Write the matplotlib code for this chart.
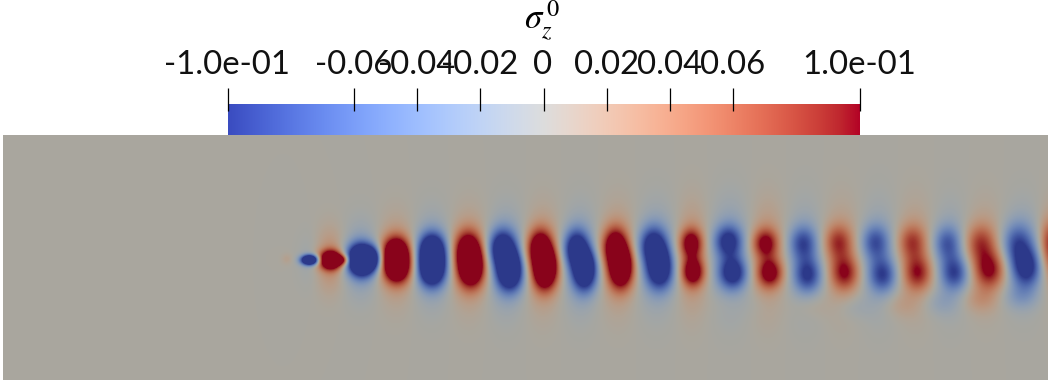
import numpy as np
import matplotlib
matplotlib.use('Agg')
import matplotlib.pyplot as plt
from matplotlib.colors import ListedColormap

# ==== scalar bar ====
tick_values = [-0.1, -0.06, -0.04, -0.02, 0.0, 0.02, 0.04, 0.06, 0.1]
tick_labels = ['-1.0e-01', '-0.06', '-0.04', '-0.02', '0', '0.02', '0.04', '0.06', '1.0e-01']
bar_title = r'$\sigma_z^{\,0}$'

# ==== lobes of the field (left to right, alternating sign) ====
# every lobe is an upper and a lower core, in image pixels
lobe_xu = [287, 310, 331, 361, 396, 432, 468, 502, 540, 576, 615, 653, 691, 728, 765, 803, 838, 875, 912, 947, 980, 1017, 1050]
lobe_xl = [287, 310, 331, 362, 397, 432, 471, 510, 545, 585, 621, 660, 693, 733, 770, 808, 845, 883, 918, 955, 990, 1027, 1052]
lobe_yu = [259, 260, 258, 255, 252, 250, 249, 248, 248, 248, 246, 245, 243, 241, 243, 243, 242, 242, 242, 243, 243, 243, 240]
lobe_yl = [259, 260, 262, 265, 268, 270, 271, 274, 273, 274, 272, 272, 272, 273, 273, 275, 273, 275, 273, 273, 270, 268, 262]
lobe_au = [.006, -.11, .10, -.12, .14, -.14, .12, -.12, .13, -.11, .12, -.10, .10, -.085, .085, -.07, .065, -.065, .06, -.06, .06, -.06, .05]
lobe_al = [.006, -.11, .10, -.12, .14, -.14, .12, -.12, .13, -.11, .12, -.10, .11, -.095, .095, -.08, .08, -.075, .075, -.075, .085, -.09, .03]
lobe_sx = [4, 6, 8, 10, 10, 10, 10, 10, 9, 9, 9, 10, 8, 10, 9, 10, 10, 10, 10, 10, 11, 11, 7]
lobe_sy = [4, 3.5, 6, 9, 11, 12, 13, 13, 13, 13, 13, 13, 10, 11, 10, 12, 12, 12, 12, 12, 13, 14, 14]
halo_amp = [0, .012, .04, .04, .04, .04, .04, .04, .04, .04, .04, .04, .04, .04, .04, .03, .03, .03, .03, .03, .03, .035, .035]

# mid core that bends the tall lobes into crescents (position, strength)
bend_x = [472, 511, 548, 586, 623, 661]
bend_y = [262, 263, 262, 262, 260, 259]
bend_a = [.05, -.05, .05, -.05, .05, -.04]

# nose of the first lobes, which are not symmetric
nose_x = [342, 374]
nose_y = [260, 258]
nose_sx = [5, 6]
nose_sy = [3.5, 8]
nose_a = [.09, -.08]

# faint secondary lobes under the main row
faint_x = [727, 760, 810, 853, 900, 940, 980, 1020]
faint_y = [303, 303, 306, 307, 305, 303, 300, 297]
faint_a = [.006, -.006, .012, -.012, .014, -.016, .02, -.022]

# ==== field ====
xx, yy = np.meshgrid(np.arange(3, 1048) + 0.5, np.arange(135, 380) + 0.5)
field = np.zeros_like(xx)


def blob(x0, y0, sx, sy, amp):
    return amp * np.exp(-((xx - x0) / sx) ** 2 / 2 - ((yy - y0) / sy) ** 2 / 2)


for i in range(len(lobe_xu)):
    field += blob(lobe_xu[i], lobe_yu[i], lobe_sx[i], lobe_sy[i], lobe_au[i])
    field += blob(lobe_xl[i], lobe_yl[i], lobe_sx[i], lobe_sy[i], lobe_al[i])
    sign = np.sign(lobe_au[i])
    xm = (lobe_xu[i] + lobe_xl[i]) / 2
    ym = (lobe_yu[i] + lobe_yl[i]) / 2
    hh = (lobe_yl[i] - lobe_yu[i]) / 2 + 19
    field += blob(xm, ym, lobe_sx[i] * 1.4, hh, sign * halo_amp[i])
for i in range(len(bend_x)):
    field += blob(bend_x[i], bend_y[i], 7, 10, bend_a[i])
for i in range(len(nose_x)):
    field += blob(nose_x[i], nose_y[i], nose_sx[i], nose_sy[i], nose_a[i])
for i in range(len(faint_x)):
    field += blob(faint_x[i], faint_y[i], 13, 9, faint_a[i])

# surface colours are the colour map dimmed by the scene lighting
base = plt.get_cmap('coolwarm')(np.linspace(0, 1, 256))[:, :3]
lit = ListedColormap(base * np.array([0.765, 0.757, 0.72]))

# ==== plot ====
fig = plt.figure(figsize=(10.56, 3.84), dpi=100)
ax = fig.add_axes([0, 0, 1, 1])
ax.axis('off')

ax.imshow(field, cmap=lit, vmin=-0.1, vmax=0.1, extent=(3, 1048, 380, 135),
          interpolation='bilinear', aspect='auto', zorder=1)

# scalar bar sits on a pixel scale of its own
bar_left, bar_right = 228, 860
scale = (bar_right - bar_left) / 0.2
gradient = np.linspace(-0.1, 0.1, 256)[None, :]
ax.imshow(gradient, cmap='coolwarm', vmin=-0.1, vmax=0.1, extent=(bar_left, bar_right, 135, 104),
          aspect='auto', zorder=2)
ax.set_xlim(0, 1056)
ax.set_ylim(384, 0)

for val, lab in zip(tick_values, tick_labels):
    xt = bar_left + (val + 0.1) * scale
    ax.plot([xt - 0.5, xt - 0.5], [88, 111], color='black', lw=0.9, zorder=3, solid_capstyle='butt')
    ax.text(xt - 1, 65, lab, ha='center', va='center', fontsize=23.7, color='#111111',
            family='Lato', zorder=4)

ax.text(542, 20, bar_title, ha='center', va='center', fontsize=25, math_fontfamily='stix', zorder=4)

plt.savefig('out.png', dpi=100)
